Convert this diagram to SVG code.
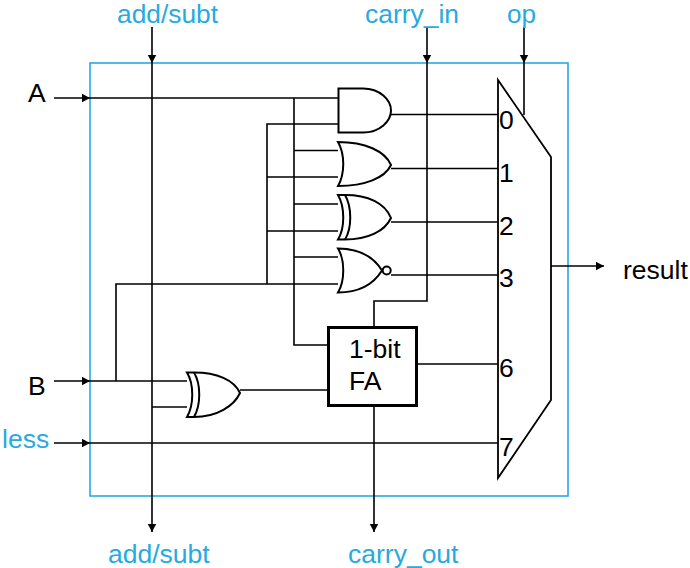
<svg xmlns="http://www.w3.org/2000/svg" width="690" height="568" viewBox="0 0 690 568">
<style>
text{font-family:"Liberation Sans",Arial,sans-serif;font-size:26.500px;fill:#000}
.b{fill:#27aae1}
.t{font-size:25px}
.w{fill:none;stroke:#000;stroke-width:1.600}
.g{fill:#fff;stroke:#000;stroke-width:2}
.x{fill:none;stroke:#000;stroke-width:2}
</style>
<defs>
<marker id="a" markerUnits="userSpaceOnUse" markerWidth="9" markerHeight="10" refX="8.500" refY="4.500" orient="auto"><path d="M0 0L8.500 4.500L0 9Z" fill="#000"/></marker>
</defs>
<rect id="frame" x="90" y="63" width="478" height="433" fill="none" stroke="#27aae1" stroke-width="1.600"/>
<g id="connectors" class="w">
<path d="M152 27V63" marker-end="url(#a)"/>
<path d="M152 63V532" marker-end="url(#a)"/>
<path d="M427 27V63" marker-end="url(#a)"/>
<path d="M427 63V301H374V327"/>
<path d="M524 27V63" marker-end="url(#a)"/>
<path d="M524 63V115"/>
<path d="M54 98H90" marker-end="url(#a)"/>
<path d="M90 98H338"/>
<path d="M54 381H90" marker-end="url(#a)"/>
<path d="M90 381H187"/>
<path d="M54 443H90" marker-end="url(#a)"/>
<path d="M90 443H498"/>
<path d="M294 98V345H328"/>
<path d="M267 284V124H338"/>
<path d="M294 150.500H338M267 177H338M294 204H338M267 231H338M294 257H338"/>
<path d="M116 381V284H338"/>
<path d="M152 407H187"/>
<path d="M240 390H328"/>
<path d="M391 114.500H498M391 168.500H498M391 222H498M391 275H498M417 364H498"/>
<path d="M374 406V532" marker-end="url(#a)"/>
<path d="M551 266H604" marker-end="url(#a)"/>
</g>
<g id="and-gate"><path class="g" d="M338.500 88.500H363C380 88.500 391 100 391 110.500C391 121 380 132.500 363 132.500H338.500Z"/></g>
<g id="or-gate"><path class="g" d="M338 142C345 154 345 174 338 186C365 186 385 178 391 165C385 151 365 142 338 142Z"/></g>
<g id="xor-gate"><path class="g" d="M338 195H345C368 195 385 203 391 218C385 231 368 239.500 345 239.500H338C345 228 345 207 338 195Z"/><path class="x" d="M345 195C352 207 352 228 345 239.500"/></g>
<g id="nor-gate"><path class="g" d="M338 248.500C345 260 345 281 338 292.500C358 292.500 373 285 382 270.500C373 256 358 248.500 338 248.500Z"/><circle class="g" cx="386.700" cy="270.500" r="4"/></g>
<g id="xor-gate-2"><path class="g" d="M187 372.500H194C217 372.500 234 380 240 393C234 406 217 417 194 417H187C194 405 194 384 187 372.500Z"/><path class="x" d="M194 372.500C201 384 201 405 194 417"/></g>
<g id="full-adder"><rect x="328.500" y="327.500" width="88" height="78" fill="#fff" stroke="#000" stroke-width="3"/><text x="349" y="358">1-bit</text><text x="349" y="390">FA</text></g>
<g id="mux"><path d="M498 80L551 157V400L498 478Z" fill="none" stroke="#000" stroke-width="1.800"/>
<text x="499" y="129">0</text><text x="499" y="182">1</text><text x="499" y="235">2</text><text x="499" y="287">3</text><text x="499" y="377">6</text><text x="499" y="456">7</text></g>
<g id="labels">
<text class="b t" x="117" y="22.800" textLength="101" lengthAdjust="spacingAndGlyphs">add/subt</text>
<text class="b t" x="365" y="22.800" textLength="94" lengthAdjust="spacingAndGlyphs">carry_in</text>
<text class="b t" x="507" y="22.800" textLength="29" lengthAdjust="spacingAndGlyphs">op</text>
<text x="28" y="102">A</text>
<text x="28" y="395">B</text>
<text class="b" x="2" y="448">less</text>
<text x="623" y="279">result</text>
<text class="b" x="108" y="563">add/subt</text>
<text class="b" x="348" y="563">carry_out</text>
</g>
</svg>
